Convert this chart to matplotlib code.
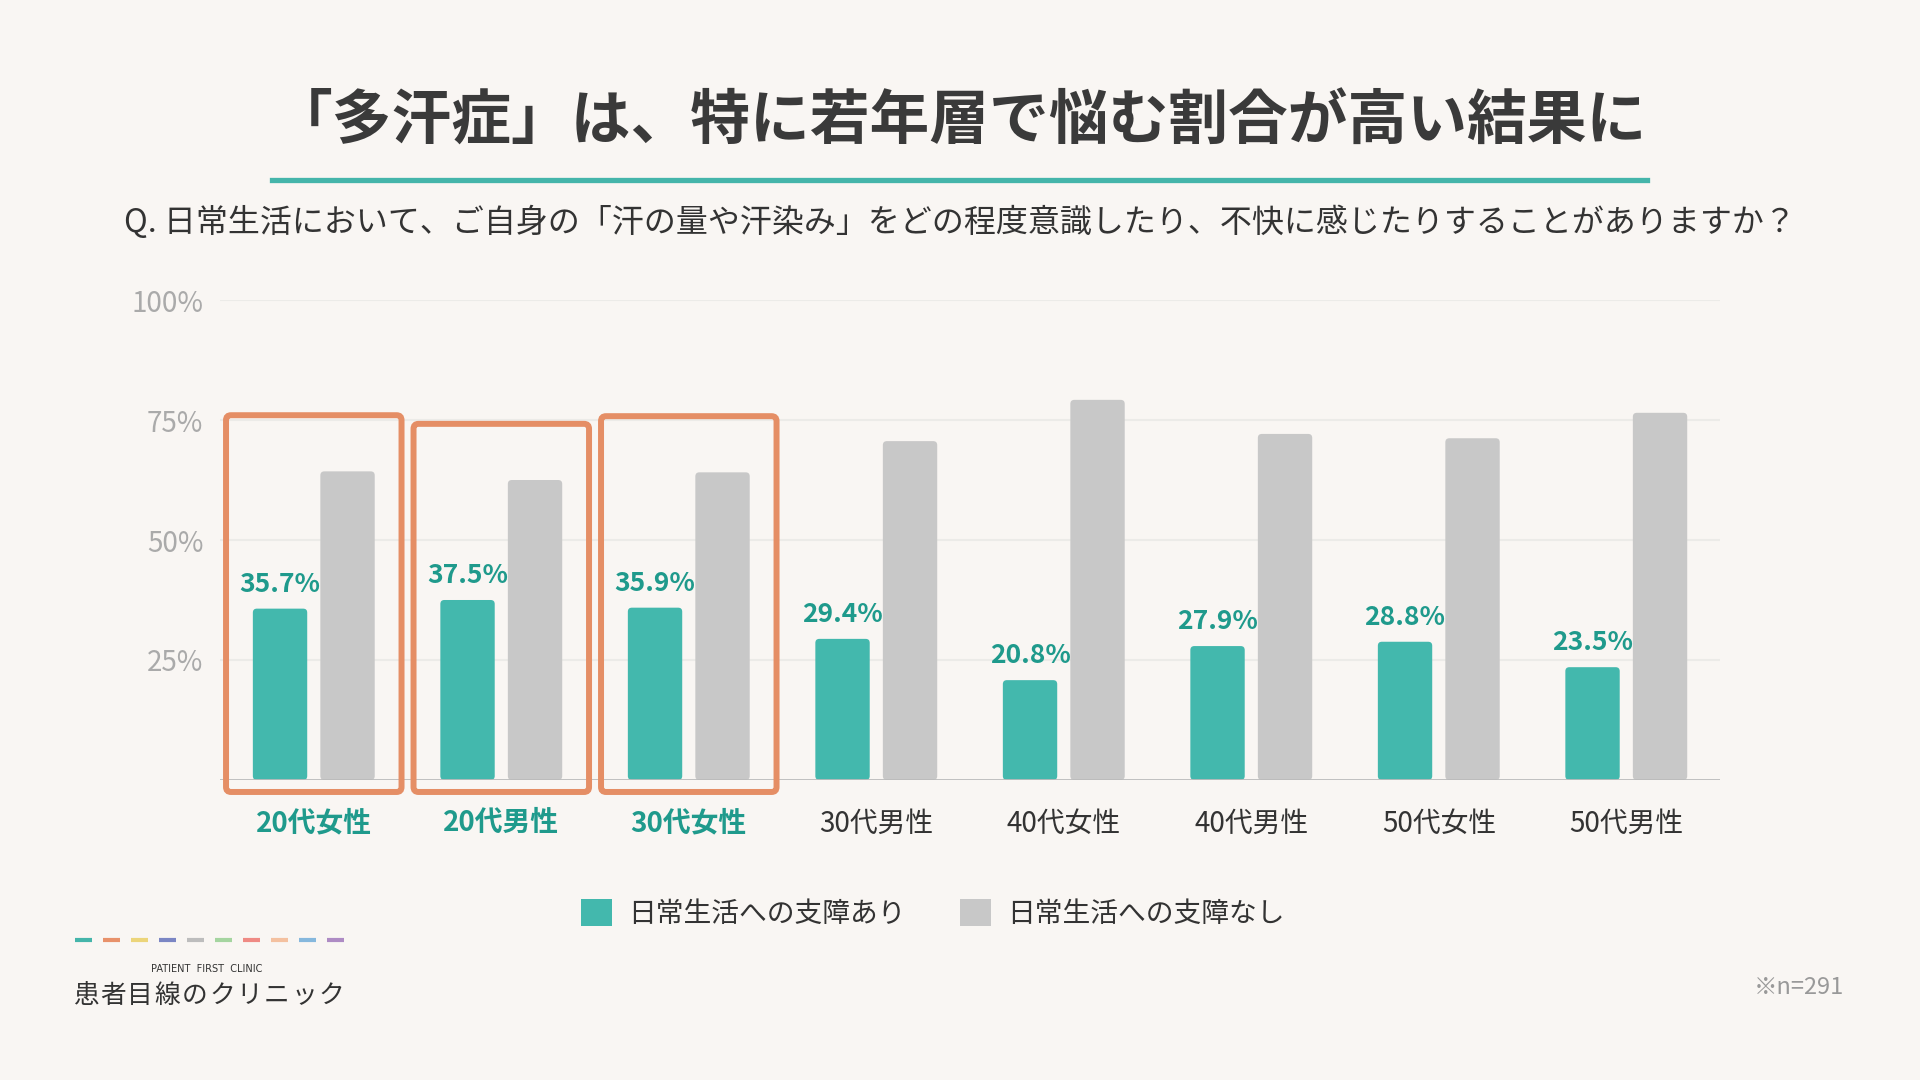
import matplotlib
matplotlib.use("Agg")
import matplotlib.pyplot as plt
from matplotlib.patches import FancyBboxPatch, Patch
from matplotlib.lines import Line2D
import numpy as np

plt.rcParams['font.family'] = ['Noto Sans CJK JP', 'DejaVu Sans']

# ---- data ----
categories = ["20代女性", "20代男性", "30代女性", "30代男性", "40代女性", "40代男性", "50代女性", "50代男性"]
with_issue = [35.7, 37.5, 35.9, 29.4, 20.8, 27.9, 28.8, 23.5]
without_issue = [64.3, 62.5, 64.1, 70.6, 79.2, 72.1, 71.2, 76.5]
highlighted = [True, True, True, False, False, False, False, False]
series_names = ["日常生活への支障あり", "日常生活への支障なし"]
yticks = [25, 50, 75, 100]
ytick_labels = ["25%", "50%", "75%", "100%"]

title = "「多汗症」は、特に若年層で悩む割合が高い結果に"
subtitle = "Q. 日常生活において、ご自身の「汗の量や汗染み」をどの程度意識したり、不快に感じたりすることがありますか？"
brand_en = "PATIENT  FIRST  CLINIC"
brand_jp = "患者目線のクリニック"
note = "※n=291"
logo_colors = ["#45b5aa", "#e8916a", "#ecd57a", "#7b86c4", "#bdbdbd",
               "#a5d5a0", "#ef8a84", "#f4c1a0", "#86b8dd", "#ae8bc4"]

# ---- style ----
BG = "#f9f6f3"
TEAL = "#43b8ad"
TEAL_TXT = "#1f9a8c"
GRAY = "#c8c8c8"
ORANGE = "#e58e65"
DARK = "#333333"

fig = plt.figure(figsize=(19.2, 10.8), dpi=100, facecolor=BG)
ax = fig.add_axes([0.1146, 0.2778, 0.78125, 0.4444])
ax.set_facecolor(BG)

x = np.arange(len(categories))
bw = 0.29
off = 0.18

b1 = ax.bar(x - off, with_issue, bw, color=TEAL, zorder=3)
b2 = ax.bar(x + off, without_issue, bw, color=GRAY, zorder=3)

# rounded bar tops
px_x = 187.5   # pixels per x unit
px_y = 4.8     # pixels per y unit
for bars in (b1, b2):
    for p in bars:
        x0, y0 = p.get_xy()
        w, h = p.get_width(), p.get_height()
        fc = p.get_facecolor()
        p.set_visible(False)
        r = 4.0 / px_x
        fb = FancyBboxPatch((x0, y0), w, h,
                            boxstyle=f"round,pad=0,rounding_size={r}",
                            mutation_aspect=px_x / px_y,
                            facecolor=fc, edgecolor="none", zorder=3)
        ax.add_patch(fb)

# value labels
for xi, v in zip(x, with_issue):
    ax.annotate(f"{v}%", (xi - off, v), xytext=(0, 8), textcoords="offset points",
                ha="center", va="bottom", fontsize=19, fontweight="bold",
                color=TEAL_TXT, zorder=4)

# highlight boxes
half = 0.468
for xi, hl, g in zip(x, highlighted, without_issue):
    if hl:
        top = g + 11.7
        bottom = -2.5
        box = FancyBboxPatch((xi - half, bottom), 2 * half, top - bottom,
                             boxstyle=f"round,pad=0,rounding_size={5.0/px_x}",
                             mutation_aspect=px_x / px_y,
                             facecolor="none", edgecolor=ORANGE, linewidth=4.3,
                             zorder=5, clip_on=False)
        ax.add_patch(box)

ax.set_xlim(-0.5, len(categories) - 0.5)
ax.set_ylim(0, 100)
ax.set_yticks(yticks)
ax.set_yticklabels(ytick_labels, fontsize=20, color="#aaaaaa")
ax.tick_params(axis="y", length=0, pad=12)
ax.grid(axis="y", color="#ecebe8", linewidth=1.5, zorder=0)
ax.set_axisbelow(True)
for s in ax.spines.values():
    s.set_visible(False)
ax.axhline(0, color="#bbbbbb", linewidth=2, zorder=4)

ax.set_xticks(x)
ax.set_xticklabels(categories, fontsize=20)
ax.tick_params(axis="x", length=0, pad=21)
for lab, hl in zip(ax.get_xticklabels(), highlighted):
    if hl:
        lab.set_color(TEAL_TXT)
        lab.set_fontweight("bold")
    else:
        lab.set_color(DARK)

# title / subtitle
fig.text(0.5, 0.886, title, ha="center", va="center", fontsize=43,
         fontweight="bold", color="#3a3a3a")
fig.add_artist(Line2D([0.1417, 0.8578], [0.8333, 0.8333], color="#45b5aa",
                      linewidth=3.8, transform=fig.transFigure))
fig.text(0.5, 0.7944, subtitle, ha="center", va="center", fontsize=23, color=DARK)

# legend
handles = [Patch(facecolor=TEAL, edgecolor="none"), Patch(facecolor=GRAY, edgecolor="none")]
fig.legend(handles, series_names, loc="center", bbox_to_anchor=(0.486, 0.154), ncol=2,
           frameon=False, fontsize=20, handlelength=1.1, handleheight=1.1,
           handletextpad=0.6, columnspacing=1.95, labelcolor=DARK)

# logo
W, H = 1920.0, 1080.0
for i, c in enumerate(logo_colors):
    xs = 75 + 28 * i
    fig.add_artist(Line2D([xs / W, (xs + 17) / W], [1 - 940 / H, 1 - 940 / H],
                          color=c, linewidth=3, transform=fig.transFigure,
                          solid_capstyle="butt"))
fig.text(207 / W, 1 - 969 / H, brand_en, ha="center", va="center", fontsize=7,
         color=DARK, family=["DejaVu Sans"])
for i, ch in enumerate(brand_jp):
    fig.text((85.5 + 27.3 * i) / W, 1 - 996 / H, ch, ha="center", va="center",
             fontsize=18.5, color=DARK)

fig.text(0.937, 0.0861, note, ha="center", va="center", fontsize=17, color="#999999")

fig.savefig("out.png", dpi=100, facecolor=BG)
